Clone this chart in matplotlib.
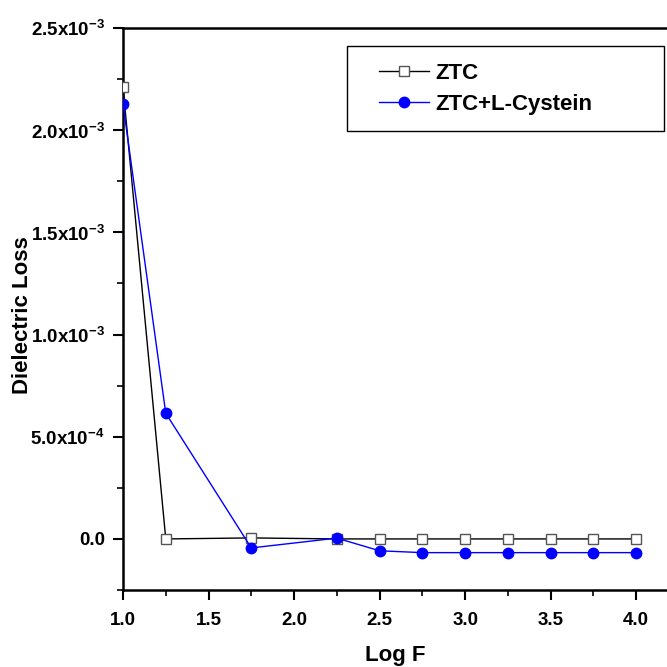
import matplotlib
matplotlib.use("Agg")
from matplotlib import pyplot as plt
from matplotlib.ticker import MultipleLocator, FixedLocator
from matplotlib.legend_handler import HandlerLine2D

# data
log_f = [1.0, 1.25, 1.75, 2.25, 2.5, 2.75, 3.0, 3.25, 3.5, 3.75, 4.0]
ztc = [2.21e-3, 0.0, 0.005e-3, 0.0, 0.0, 0.0, 0.0, 0.0, 0.0, 0.0, 0.0]
ztc_cys = [2.128e-3, 0.615e-3, -0.044e-3, 0.004e-3, -0.058e-3, -0.067e-3,
           -0.067e-3, -0.067e-3, -0.067e-3, -0.067e-3, -0.067e-3]

y_ticks = [0.0, 5.0e-4, 1.0e-3, 1.5e-3, 2.0e-3, 2.5e-3]
y_labels = ['0.0', r'5.0x10$^{\mathregular{-4}}$', r'1.0x10$^{\mathregular{-3}}$',
            r'1.5x10$^{\mathregular{-3}}$', r'2.0x10$^{\mathregular{-3}}$',
            r'2.5x10$^{\mathregular{-3}}$']

plt.rcParams['font.family'] = ['Liberation Sans', 'DejaVu Sans']
plt.rcParams['font.weight'] = 'bold'

fig = plt.figure(figsize=(6.67, 6.67), dpi=100)
ax = fig.add_axes([0.1844, 0.1154, 0.8156, 0.8426])

ax.plot(log_f, ztc, color='black', lw=1.0, marker='s', ms=6.5,
        mfc='white', mec='#555555', mew=1.0, label='ZTC', zorder=3)
ax.plot(log_f, ztc_cys, color='blue', lw=1.0, marker='o', ms=7.5,
        mfc='blue', mec='blue', label='ZTC+L-Cystein', zorder=4)

ax.set_xlim(1.0, 4.18)
ax.set_ylim(-2.5e-4, 2.5e-3)
ax.xaxis.set_major_locator(MultipleLocator(0.5))
ax.xaxis.set_minor_locator(MultipleLocator(0.25))
ax.yaxis.set_major_locator(FixedLocator(y_ticks))
ax.yaxis.set_minor_locator(MultipleLocator(2.5e-4))
ax.set_yticklabels(y_labels)

for lab in ax.get_xticklabels() + ax.get_yticklabels():
    lab.set_fontweight('bold')
    lab.set_fontsize(13.5)

ax.tick_params(which='major', direction='out', length=7, width=1.5)
ax.tick_params(which='minor', direction='out', length=4.5, width=1.2)
ax.tick_params(axis='x', which='major', pad=9)
ax.tick_params(axis='y', which='major', pad=6)
for s in ['left', 'bottom', 'top']:
    ax.spines[s].set_linewidth(1.8)
ax.spines['right'].set_visible(False)

ax.set_xlabel('Log F', fontsize=16, fontweight='bold', labelpad=11)
ax.set_ylabel('Dielectric Loss', fontsize=16, fontweight='bold')
ax.yaxis.set_label_coords(-0.165, 0.49)

hmap = {h: HandlerLine2D(xpad=0.68) for h in ax.get_lines()}
leg = ax.legend(loc='upper left', bbox_to_anchor=(0.412, 0.817, 0.582, 0.151),
                mode='expand', fancybox=False, edgecolor='black', framealpha=1,
                prop={'size': 16, 'weight': 'bold'}, handlelength=2.93,
                borderpad=0.75, labelspacing=0.45, handletextpad=0.3,
                borderaxespad=0, handler_map=hmap)
leg.get_frame().set_linewidth(1.0)

fig.savefig('out.png', dpi=100)
